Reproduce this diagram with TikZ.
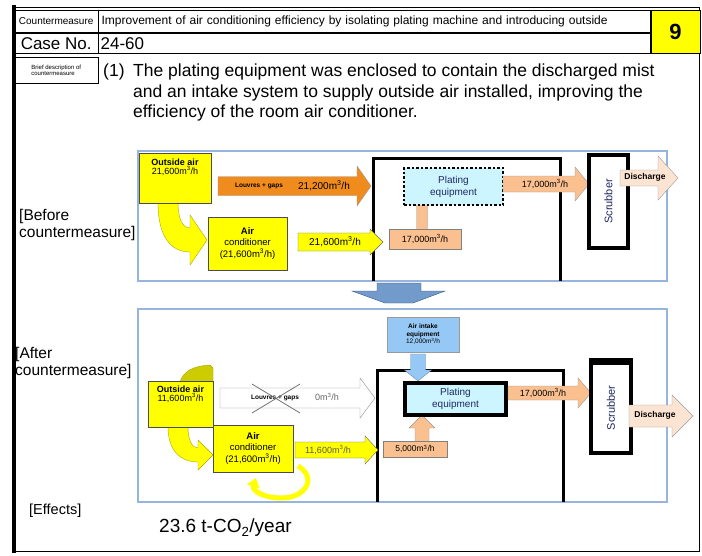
\documentclass[tikz,border=0pt]{standalone}
\usepackage{fontspec}
\setmainfont{Liberation Sans}
\usetikzlibrary{arrows.meta,positioning}
\definecolor{cmyellow}{RGB}{255,255,0}
\definecolor{cmolive}{RGB}{175,165,0}
\definecolor{cmorange}{RGB}{240,140,30}
\definecolor{cmpeach}{RGB}{250,192,144}
\definecolor{cmpale}{RGB}{252,228,210}
\definecolor{cmcyan}{RGB}{205,245,255}
\definecolor{cmsky}{RGB}{150,200,245}
\definecolor{cmpanel}{RGB}{150,180,220}
\definecolor{cmsteel}{RGB}{79,129,189}
\definecolor{cmnavy}{RGB}{30,40,100}
\newcommand{\setfs}[1]{\fontsize{#1}{#1}\selectfont}
% block arrow pointing right: style, tail x, head x, tip x, mid y, half shaft, half head
\newcommand{\flowR}[7]{\filldraw[#1] (#2,#5-#6) -- (#3,#5-#6) -- (#3,#5-#7) -- (#4,#5)
  -- (#3,#5+#7) -- (#3,#5+#6) -- (#2,#5+#6) -- cycle;}
% block arrow pointing up or down: style, tail y, head y, tip y, mid x, half shaft, half head
\newcommand{\flowV}[7]{\filldraw[#1] (#5-#6,#2) -- (#5-#6,#3) -- (#5-#7,#3) -- (#5,#4)
  -- (#5+#7,#3) -- (#5+#6,#3) -- (#5+#6,#2) -- cycle;}

\begin{document}
\begin{tikzpicture}[x=1pt,y=-1pt,
    cell/.style={draw,inner sep=0pt},
    panel/.style={draw=cmpanel,line width=1.5pt},
    wall/.style={line width=3pt},
    ybox/.style={draw=black!70,fill=cmyellow,inner sep=0pt},
    pbox/.style={draw=black!50,fill=cmpeach,inner sep=0pt},
    scrub/.style={draw,line width=3.5pt,fill=white,inner sep=0pt},
    tag/.style={inner sep=0pt,align=center}]
  \useasboundingbox (0,0) rectangle (702,555);
  % frame and header
  \draw[line width=1pt] (14,7) -- (699,7) -- (699,551) -- (14,551);
  \draw[line width=4pt] (14,5) -- (14,553);
  \node[cell,minimum width=84pt,minimum height=22pt,anchor=north west,font=\setfs{10}] (cmlab) at (14,10) {Countermeasure};
  \node[cell,minimum width=552pt,minimum height=22pt,anchor=west,text width=546pt,align=left,font=\setfs{12}] (title) at (cmlab.east)
    {Improvement of air conditioning efficiency by isolating plating machine and introducing outside};
  \node[cell,fill=cmyellow,minimum width=49pt,minimum height=43pt,anchor=north west,font=\bfseries\setfs{22}] (num) at (title.north east) {9};
  \node[cell,minimum width=84pt,minimum height=20pt,anchor=north west,font=\setfs{17}] (caselab) at (14,33) {Case No.};
  \node[cell,minimum width=552pt,minimum height=20pt,anchor=west,text width=548pt,align=left,font=\setfs{17}] (caseno) at (caselab.east) {24-60};
  \node[cell,minimum width=84pt,minimum height=26pt,anchor=north west,align=left,font=\setfs{6}] (brief) at (14,57) {Brief description of\\countermeasure};
  \node[anchor=base west,inner sep=0pt,font=\setfs{17.5}] (item) at (103,76) {(1)};
  \node[anchor=base west,inner sep=0pt,font=\setfs{17.5}] (line1) at (133,76) {The plating equipment was enclosed to contain the discharged mist};
  \node[anchor=base west,inner sep=0pt,font=\setfs{17.5}] (line2) at (133,97) {and an intake system to supply outside air installed, improving the};
  \node[anchor=base west,inner sep=0pt,font=\setfs{17.5}] (line3) at (133,117) {efficiency of the room air conditioner.};
  % side labels
  \node[anchor=west,tag,align=left,font=\fontsize{15.5}{17}\selectfont] (before) at (19,225) {[Before\\countermeasure]};
  \node[anchor=west,tag,align=left,font=\fontsize{15.5}{17}\selectfont] (after) at (15,363) {[After\\countermeasure]};
  \node[anchor=west,tag,font=\setfs{14.5}] (effects) at (29,511) {[Effects]};
  \node[anchor=west,tag,font=\setfs{19}] (result) at (159,528) {23.6 t-CO\textsubscript{2}/year};

  % before countermeasure
  \draw[panel] (138,151) rectangle (667,281);
  \draw[wall] (373,281) -- (373,158) -- (560,158) -- (560,281);
  \filldraw[fill=cmyellow,draw=cmolive] (158,203) .. controls (158,235) and (170,252) .. (190,252) -- (190,265) -- (207,240)
    -- (190,215) -- (190,228) .. controls (181,228) and (178,215) .. (178,203) -- cycle;
  \node[ybox,minimum width=72pt,minimum height=50pt] (oa1) at (175,178) {};
  \node[tag,anchor=north,font=\setfs{9}] (oa1t) at ([yshift=-6pt]oa1.north) {\textbf{Outside air}\\21,600m\textsuperscript{3}/h};
  \flowR{fill=cmorange,draw=black!40}{218}{357}{371}{186}{9.5}{20}
  \node[tag,font=\bfseries\setfs{6.5}] (gap1) at (259,186) {Louvres + gaps};
  \node[tag,font=\setfs{10}] (gap1v) at (324,186) {21,200m\textsuperscript{3}/h};
  \node[ybox,minimum width=79pt,minimum height=53pt,font=\fontsize{9.5}{11.5}\selectfont,align=center] (ac1) at (247.5,243.5)
    {\textbf{Air}\\conditioner\\(21,600m\textsuperscript{3}/h)};
  \flowR{fill=cmyellow,draw=black!60}{298}{370}{383}{242}{9}{13}
  \node[tag,font=\setfs{10}] (ac1v) at (335,242) {21,600m\textsuperscript{3}/h};
  \flowV{fill=cmpeach,draw=black!40}{232}{205}{190}{422}{5.5}{12}
  \node[cell,fill=cmcyan,draw,dotted,line width=2.5pt,minimum width=99pt,minimum height=37pt,font=\fontsize{10}{12}\selectfont,align=center,text=cmnavy] (pl1) at (453.5,186.5)
    {Plating\\equipment};
  \node[pbox,minimum width=72pt,minimum height=20pt,font=\setfs{9}] (pl1in) at (425,239) {17,000m\textsuperscript{3}/h};
  \flowR{fill=cmpeach,draw=black!40}{503}{575}{589}{184}{8}{17}
  \node[tag,font=\setfs{9}] (pl1out) at (545,184) {17,000m\textsuperscript{3}/h};
  \node[scrub,minimum width=39pt,minimum height=93pt] (sc1) at (608.5,201.5) {};
  \node[tag,rotate=90,font=\setfs{11},text=cmnavy] (sc1t) at (sc1.center) {Scrubber};
  \flowR{fill=cmpale,draw=black!40}{620}{658}{678}{178}{8}{22}
  \node[tag,font=\bfseries\setfs{8.5}] (dis1) at (645,177) {Discharge};

  % transition arrow
  \filldraw[fill=cmsteel!80,draw=cmsteel!70!black] (377,283) -- (421,283) -- (421,291) -- (445,291) -- (413,303)
    -- (385,303) -- (352,291) -- (377,291) -- cycle;

  % after countermeasure
  \draw[panel] (138,309) rectangle (667,502);
  \draw[wall] (377,502) -- (377,370) -- (563,370) -- (563,502);
  \node[cell,fill=cmsky,draw=black!40,minimum width=72pt,minimum height=35pt,font=\fontsize{6.5}{7.5}\selectfont,align=center] (intake) at (423,334.5)
    {\textbf{Air intake}\\\textbf{equipment}\\12,000m\textsuperscript{3}/h};
  \flowV{fill=cmsky,draw=cmsky!70!black}{354}{370}{381}{418}{7.5}{13.5}
  \flowV{fill=cmpeach,draw=black!40}{442}{428}{415}{422}{7}{13}
  \node[cell,fill=cmcyan,line width=4pt,minimum width=101pt,minimum height=32pt,font=\fontsize{10}{12}\selectfont,align=center,text=cmnavy] (pl2) at (455.5,399)
    {Plating\\equipment};
  \node[pbox,minimum width=64pt,minimum height=16pt,font=\setfs{8.5}] (pl2in) at (415,449) {5,000m\textsuperscript{3}/h};
  \flowR{fill=cmpeach,draw=black!40}{508}{578}{591}{393}{7}{15}
  \node[tag,font=\setfs{9}] (pl2out) at (543,393) {17,000m\textsuperscript{3}/h};
  \node[scrub,minimum width=40pt,minimum height=90pt] (sc2) at (611,408) {};
  \draw[line width=6pt] (sc2.north west) -- (sc2.north east);
  \node[tag,rotate=90,font=\setfs{11},text=cmnavy] (sc2t) at (sc2.center) {Scrubber};
  \flowR{fill=cmpale,draw=black!40}{629}{672}{693}{416}{11}{21}
  \node[tag,font=\bfseries\setfs{8.5}] (dis2) at (655,415) {Discharge};
  % outside air and conditioner
  \filldraw[fill=cmyellow!80!black,draw=cmolive] (180,382) .. controls (183,372) and (192,366) .. (210,365) -- (213,368) -- (213,382) -- cycle;
  \filldraw[fill=cmyellow,draw=cmolive] (168,427) .. controls (168,450) and (180,462) .. (198,462) -- (198,470) -- (213,455)
    -- (198,440) -- (198,448) .. controls (192,448) and (188,440) .. (188,427) -- cycle;
  \node[ybox,minimum width=65pt,minimum height=46pt] (oa2) at (180.5,404) {};
  \node[tag,anchor=north,font=\setfs{9}] (oa2t) at ([yshift=-5pt]oa2.north) {\textbf{Outside air}\\11,600m\textsuperscript{3}/h};
  \flowR{fill=white,draw=black!45}{220}{360}{375}{398}{10}{20}
  \node[tag,font=\bfseries\setfs{6.5}] (gap2) at (275,398) {Louvres + gaps};
  \node[tag,font=\setfs{9},text=black!60] (gap2v) at (327,397) {0m\textsuperscript{3}/h};
  \coordinate (xa) at (252,384);
  \coordinate (xb) at (300,413);
  \draw[black!55,line width=0.8pt] (xa) -- (xb) (xa |- xb) -- (xb |- xa);
  \node[ybox,minimum width=80pt,minimum height=47pt,font=\fontsize{9.5}{11.5}\selectfont,align=center] (ac2) at (253,448.5)
    {\textbf{Air}\\conditioner\\(21,600m\textsuperscript{3}/h)};
  \draw[cmyellow,line width=5pt,-{Triangle[length=9pt,width=13pt]}] (298,466) .. controls (318,478) and (305,498) .. (282,498)
    .. controls (262,498) and (252,490) .. (256,478);
  \flowR{fill=cmyellow,draw=black!60}{295}{365}{378}{450}{8}{14}
  \node[tag,font=\setfs{9},text=black!65] (ac2v) at (328,450) {11,600m\textsuperscript{3}/h};
\end{tikzpicture}
\end{document}
